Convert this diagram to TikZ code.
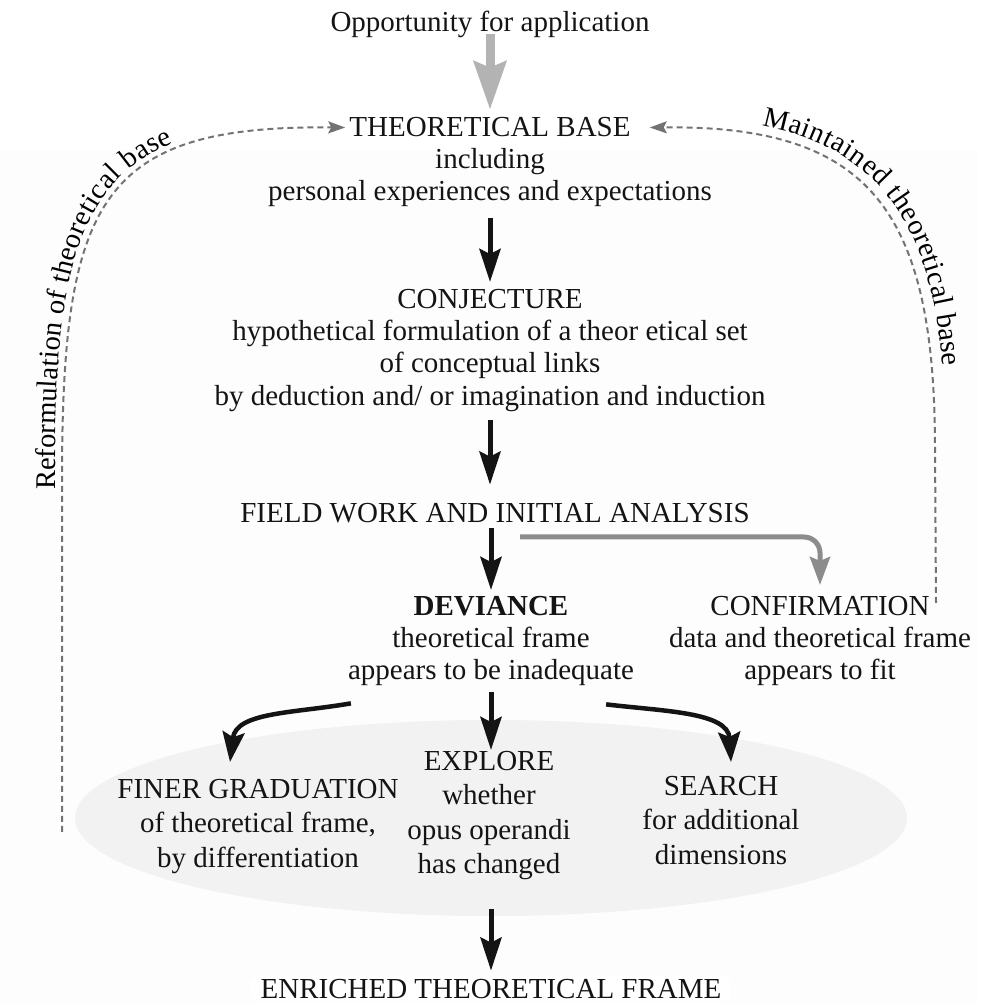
\documentclass[tikz,border=0pt]{standalone}
\usepackage{fontspec}
\setmainfont{Liberation Serif}
\usetikzlibrary{arrows.meta,decorations.text}
\definecolor{lightarrow}{HTML}{B3B3B3}
\definecolor{midarrow}{HTML}{8C8C8C}
\definecolor{dashgray}{HTML}{737373}
\definecolor{ellfill}{HTML}{F2F2F2}
\definecolor{bgfill}{HTML}{FDFDFD}
\newcommand\crvfont{\fontsize{28.5}{32}\selectfont}
\begin{document}
\begin{tikzpicture}[x=1pt,y=1pt,
  lbl/.style={font=\fontsize{29}{32.3}\selectfont, inner sep=0pt, align=center, text=black!92},
  lowlbl/.style={lbl, font=\fontsize{29}{34.5}\selectfont},
  flow/.style={-{Stealth[length=33pt,width=21pt,inset=5pt]}, line width=5pt, black!92},
  bigarrow/.style={-{Stealth[length=48pt,width=32pt,inset=6pt]}, line width=9pt, lightarrow},
  sidearrow/.style={-{Stealth[length=28pt,width=20pt,inset=4pt]}, line width=5pt, midarrow},
  curvearrow/.style={-{Stealth[length=30pt,width=22pt,inset=5pt]}, line width=4.5pt, black!92},
  dasharrow/.style={-{Stealth[length=17pt,width=12pt,inset=3pt]}, line width=2pt, dashgray, dash pattern=on 6pt off 4pt}
]
\useasboundingbox (0,0) rectangle (986,1003);
\fill[bgfill] (0,0) rectangle (977,853);
\fill[ellfill] (491,185) ellipse [x radius=416, y radius=98];

% nodes
\node[lbl, anchor=base] (opp) at (490,971) {Opportunity for application};
\node[lbl, anchor=base] (tb) at (490,866) {THEORETICAL BASE};
\node[lbl, anchor=north] (tbsub) at (490,855) {including\\personal experiences and expectations};
\node[lbl, anchor=north] (conj) at (490,714) {CONJECTURE\\hypothetical formulation of a theor etical set\\of conceptual links\\by deduction and/ or imagination and induction};
\node[lbl, anchor=base] (field) at (495,480) {FIELD WORK AND INITIAL ANALYSIS};
\node[lbl, anchor=north] (dev) at (491,407) {\textbf{DEVIANCE}\\theoretical frame\\appears to be inadequate};
\node[lbl, anchor=north] (conf) at (820,407) {CONFIRMATION\\data and theoretical frame\\appears to fit};
\node[lowlbl, anchor=north] (finer) at (258,224) {FINER GRADUATION\\of theoretical frame,\\by differentiation};
\node[lowlbl, anchor=north] (explore) at (489,252) {EXPLORE\\whether\\opus operandi\\has changed};
\node[lowlbl, anchor=north] (search) at (721,227) {SEARCH\\for additional\\dimensions};
\node[lbl, anchor=base, fill=white, rounded corners=8pt, inner xsep=10pt, inner ysep=3pt] (enr) at (491,5) {ENRICHED THEORETICAL FRAME};

\coordinate (lb) at (62,171);
\coordinate (rb) at (936,400);
\coordinate (gstart) at (520,466);

% main flow
\draw[bigarrow] ([yshift=-2pt]opp.base) -- ([yshift=8pt]tb.north);
\draw[flow, shorten <=11pt, shorten >=7pt] (tbsub.south) -- (tbsub.south |- conj.north);
\draw[flow, shorten <=8pt, shorten >=19pt] (conj.south) -- (conj.south |- field.north);
\draw[flow, shorten <=4pt, shorten >=6pt] (field.south -| dev.north) -- (dev.north);
\draw[flow, shorten <=6pt, shorten >=1pt] (dev.south) -- (dev.south |- explore.north);
\draw[flow, shorten <=29pt, shorten >=5pt] (explore.south -| enr.north) -- (enr.north);

% side branch
\draw[sidearrow, rounded corners=16pt] (gstart) -| ([yshift=11pt]conf.north);

% curved branches
\draw[curvearrow] ([shift={(3pt,-17pt)}]dev.south west) .. controls +(-58,-10) and +(6,50) .. ([shift={(-28pt,17pt)}]finer.north);
\draw[curvearrow] ([shift={(-28pt,-18pt)}]dev.south east) .. controls +(58,-7) and +(-3,50) .. ([shift={(10pt,14pt)}]search.north);

% feedback loops
\draw[dasharrow] (lb) -- (62,523) .. controls (62,803) and (100,878) .. ([xshift=-4pt]tb.west);
\draw[dasharrow] (rb) -- (935,553) .. controls (935,793) and (870,878) .. ([xshift=19pt]tb.east);

\path[decorate, decoration={text along path, text={|\crvfont|Reformulation of theoretical base}, text align={left indent=342pt}, raise=7pt}]
  (lb) -- (62,523) .. controls (62,803) and (100,878) .. ([xshift=-4pt]tb.west);
\path[decorate, decoration={text along path, text={|\crvfont|Maintained theoretical base}, text align={left indent=110pt}, raise=11pt}]
  ([xshift=19pt]tb.east) .. controls (870,878) and (935,793) .. (935,553) -- (rb);
\end{tikzpicture}
\end{document}
